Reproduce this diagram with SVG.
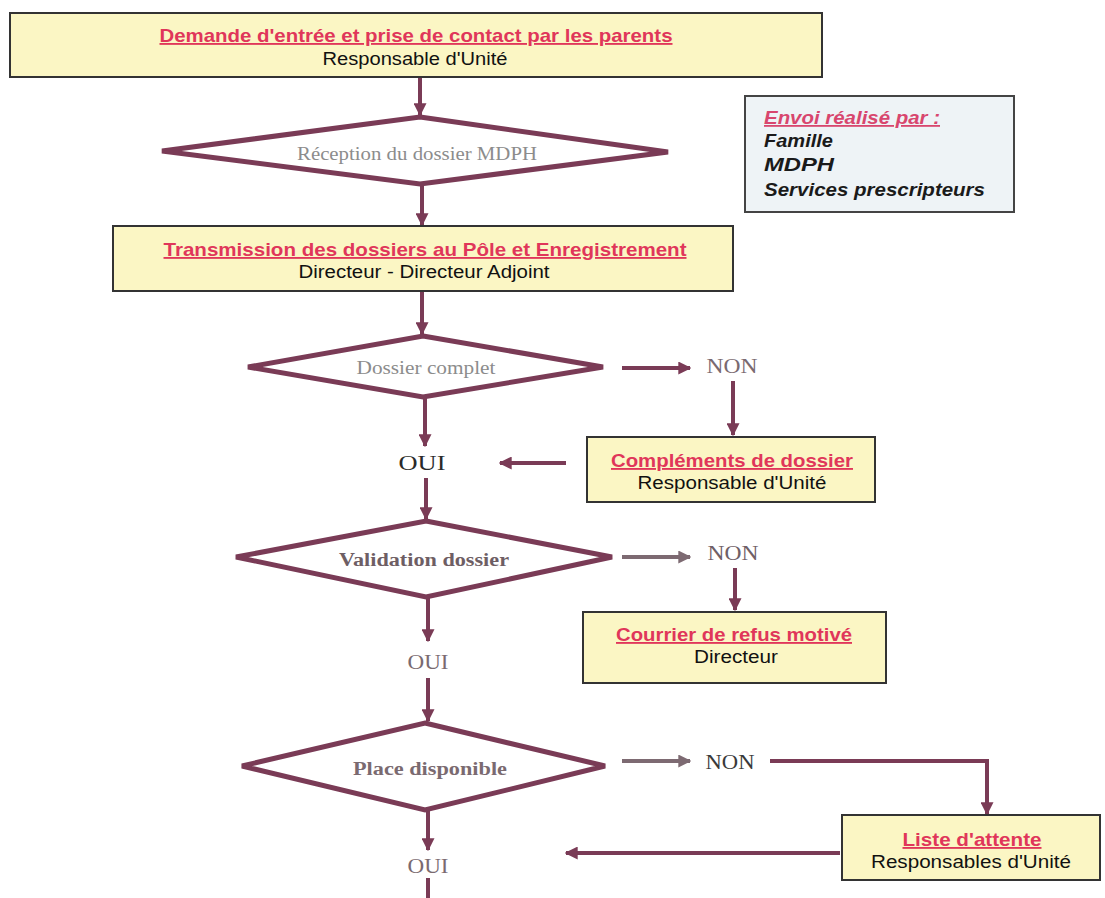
<svg xmlns="http://www.w3.org/2000/svg" width="1105" height="898" viewBox="0 0 1105 898">
<defs>
<style>
.box{fill:#fbf6c4;stroke:#333;stroke-width:2}
.info{fill:#eef3f6;stroke:#444;stroke-width:2}
.dia{fill:#fff;stroke:#7a3b56;stroke-width:5;stroke-linejoin:miter}
.ttl{font-family:"Liberation Sans",Arial,sans-serif;font-weight:bold;font-size:18.5px;fill:#e0365a;text-decoration:underline;text-anchor:middle}
.sub{font-family:"Liberation Sans",Arial,sans-serif;font-size:17.5px;fill:#111;text-anchor:middle}
.dtx{font-family:"Liberation Serif","Times New Roman",serif;font-size:18px;fill:#8c8c8c;text-anchor:middle}
.dtb{font-family:"Liberation Serif","Times New Roman",serif;font-size:18px;font-weight:bold;fill:#6e5e64;text-anchor:middle}
.lbl{font-family:"Liberation Serif","Times New Roman",serif;font-size:21px;fill:#5a4a50;text-anchor:middle}
.inf{font-family:"Liberation Sans",Arial,sans-serif;font-size:18px;font-weight:bold;font-style:italic;fill:#1a1a1a}
.con{fill:none;stroke:#7a3b56;stroke-width:4}
.cong{fill:none;stroke:#7d6a72;stroke-width:4}
</style>
<marker id="ah" viewBox="0 0 10 10" refX="9" refY="5" markerWidth="13" markerHeight="13" markerUnits="userSpaceOnUse" orient="auto">
<path d="M0,0 L10,5 L0,10 z" fill="#7a3b56"/>
</marker>
<marker id="ahg" viewBox="0 0 10 10" refX="9" refY="5" markerWidth="13" markerHeight="13" markerUnits="userSpaceOnUse" orient="auto">
<path d="M0,0 L10,5 L0,10 z" fill="#7d6a72"/>
</marker>
</defs>
<rect width="1105" height="898" fill="#fff"/>

<g id="connectors">
<line class="con" x1="420" y1="78" x2="420" y2="115" marker-end="url(#ah)"/>
<line class="con" x1="422" y1="184" x2="422" y2="225" marker-end="url(#ah)"/>
<line class="con" x1="422" y1="292" x2="422" y2="334" marker-end="url(#ah)"/>
<line class="con" x1="622" y1="368" x2="690" y2="368" marker-end="url(#ah)"/>
<line class="con" x1="733" y1="381" x2="733" y2="435" marker-end="url(#ah)"/>
<line class="con" x1="566" y1="463" x2="500" y2="463" marker-end="url(#ah)"/>
<line class="con" x1="425" y1="398" x2="425" y2="446" marker-end="url(#ah)"/>
<line class="con" x1="426" y1="478" x2="426" y2="519" marker-end="url(#ah)"/>
<line class="cong" x1="622" y1="557" x2="690" y2="557" marker-end="url(#ahg)"/>
<line class="con" x1="735" y1="568" x2="735" y2="610" marker-end="url(#ah)"/>
<line class="con" x1="428" y1="598" x2="428" y2="641" marker-end="url(#ah)"/>
<line class="con" x1="428" y1="678" x2="428" y2="721" marker-end="url(#ah)"/>
<line class="cong" x1="622" y1="761" x2="690" y2="761" marker-end="url(#ahg)"/>
<polyline class="con" points="770,761 987,761 987,814" marker-end="url(#ah)"/>
<line class="con" x1="840" y1="853" x2="566" y2="853" marker-end="url(#ah)"/>
<line class="con" x1="428" y1="811" x2="428" y2="850" marker-end="url(#ah)"/>
<line class="con" x1="428" y1="878" x2="428" y2="898"/>
</g>

<g id="n1">
<rect class="box" x="10" y="13" width="812" height="64"/>
<text class="ttl" x="416" y="42" textLength="513" lengthAdjust="spacingAndGlyphs">Demande d'entrée et prise de contact par les parents</text>
<text class="sub" x="415" y="65" textLength="185" lengthAdjust="spacingAndGlyphs">Responsable d'Unité</text>
</g>

<g id="d1">
<polygon class="dia" points="420,117 668,152 420,184 162,151"/>
<text class="dtx" x="417" y="160" textLength="240" lengthAdjust="spacingAndGlyphs">Réception du dossier MDPH</text>
</g>

<g id="info">
<rect class="info" x="745" y="96" width="269" height="116"/>
<text class="inf" x="764" y="124" style="fill:#d8466e;text-decoration:underline" textLength="176" lengthAdjust="spacingAndGlyphs">Envoi réalisé par :</text>
<text class="inf" x="764" y="147" textLength="69" lengthAdjust="spacingAndGlyphs">Famille</text>
<text class="inf" x="764" y="171" textLength="70" lengthAdjust="spacingAndGlyphs">MDPH</text>
<text class="inf" x="764" y="196" textLength="221" lengthAdjust="spacingAndGlyphs">Services prescripteurs</text>
</g>

<g id="n2">
<rect class="box" x="113" y="226" width="620" height="65"/>
<text class="ttl" x="425" y="256" textLength="523" lengthAdjust="spacingAndGlyphs">Transmission des dossiers au Pôle et Enregistrement</text>
<text class="sub" x="424" y="278" textLength="251" lengthAdjust="spacingAndGlyphs">Directeur - Directeur Adjoint</text>
</g>

<g id="d2">
<polygon class="dia" points="423,336 603,367 423,397 248,367"/>
<text class="dtx" x="426" y="374" textLength="139" lengthAdjust="spacingAndGlyphs">Dossier complet</text>
</g>

<g id="non1"><text class="lbl" x="732" y="373" style="fill:#7a6a70" textLength="51" lengthAdjust="spacingAndGlyphs">NON</text></g>

<g id="n3">
<rect class="box" x="587" y="437" width="288" height="65"/>
<text class="ttl" x="732" y="467" textLength="242" lengthAdjust="spacingAndGlyphs">Compléments de dossier</text>
<text class="sub" x="732" y="489" textLength="189" lengthAdjust="spacingAndGlyphs">Responsable d'Unité</text>
</g>

<g id="oui1"><text class="lbl" x="422" y="470" style="fill:#2a2a2a" textLength="47" lengthAdjust="spacingAndGlyphs">OUI</text></g>

<g id="d3">
<polygon class="dia" points="426,521 612,557 426,597 236,557"/>
<text class="dtb" x="424" y="566" textLength="170" lengthAdjust="spacingAndGlyphs">Validation dossier</text>
</g>

<g id="non2"><text class="lbl" x="733" y="560" style="fill:#6f6066" textLength="51" lengthAdjust="spacingAndGlyphs">NON</text></g>

<g id="n4">
<rect class="box" x="583" y="612" width="303" height="71"/>
<text class="ttl" x="734" y="641" textLength="236" lengthAdjust="spacingAndGlyphs">Courrier de refus motivé</text>
<text class="sub" x="736" y="663" textLength="84" lengthAdjust="spacingAndGlyphs">Directeur</text>
</g>

<g id="oui2"><text class="lbl" x="428" y="669" style="fill:#7a6a70" textLength="41" lengthAdjust="spacingAndGlyphs">OUI</text></g>

<g id="d4">
<polygon class="dia" points="425,723 605,766 425,810 242,766"/>
<text class="dtb" x="430" y="775" style="fill:#7a6a70" textLength="154" lengthAdjust="spacingAndGlyphs">Place disponible</text>
</g>

<g id="non3"><text class="lbl" x="730" y="769" style="fill:#3a3a3a" textLength="49" lengthAdjust="spacingAndGlyphs">NON</text></g>

<g id="n5">
<rect class="box" x="842" y="815" width="258" height="65"/>
<text class="ttl" x="972" y="846" textLength="139" lengthAdjust="spacingAndGlyphs">Liste d'attente</text>
<text class="sub" x="971" y="868" textLength="200" lengthAdjust="spacingAndGlyphs">Responsables d'Unité</text>
</g>

<g id="oui3"><text class="lbl" x="428" y="873" style="fill:#7a6a70" textLength="41" lengthAdjust="spacingAndGlyphs">OUI</text></g>
</svg>
